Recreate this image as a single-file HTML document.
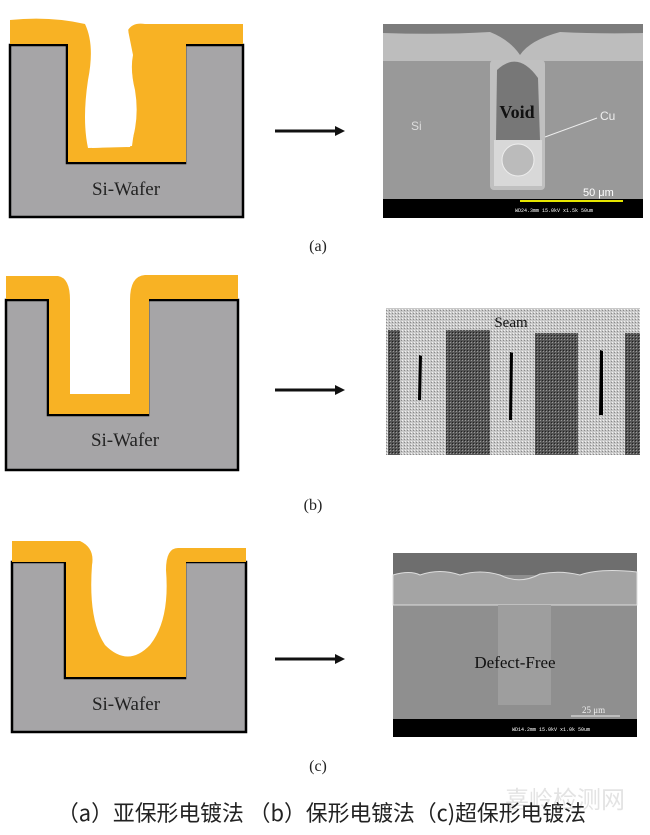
<!DOCTYPE html>
<html><head><meta charset="utf-8"><style>
body{margin:0;background:#fff;width:650px;height:835px;overflow:hidden}
svg{display:block}
.t{font-family:"Liberation Serif",serif}
</style></head><body>
<svg width="650" height="835" viewBox="0 0 650 835">
<defs>
<marker id="ah" markerWidth="10" markerHeight="10" refX="6" refY="5" orient="auto" markerUnits="userSpaceOnUse"><path d="M0,0 L10,5 L0,10 z" fill="#111"/></marker>
<pattern id="dots" width="3" height="3" patternUnits="userSpaceOnUse"><rect width="3" height="3" fill="#c8c8c8"/><rect width="1" height="1" fill="#f2f2f2"/><rect x="2" y="1" width="1" height="1" fill="#8a8a8a"/></pattern>
<pattern id="dk" width="3" height="3" patternUnits="userSpaceOnUse"><rect width="3" height="3" fill="#555"/><rect width="1" height="1" fill="#999"/><rect x="2" y="2" width="1" height="1" fill="#222"/></pattern>
</defs>

<!-- Panel a -->
<path d="M10,45 H67 V163 H185 V45 H243 V217 H10 Z" fill="#a6a5a7" stroke="#000" stroke-width="2.5"/>
<path d="M10,20 Q50,16 85,24 Q95,45 88,80 Q82,120 88,148 L130,147 Q140,120 135,90 Q130,70 133,55 L128,30 Q133,22 145,24 L243,24 V44 H186 V162 H68 V44 H10 Z" fill="#f8b224"/>
<path d="M88,26 Q100,90 92,148 L132,146 Q138,110 130,60 L128,26 Z" fill="#fff"/>
<text x="126" y="195" text-anchor="middle" class="t" font-size="19" fill="#222">Si-Wafer</text>
<line x1="275" y1="131" x2="341" y2="131" stroke="#111" stroke-width="3" marker-end="url(#ah)"/>
<rect x="383" y="24" width="260" height="194" fill="#999"/>
<rect x="383" y="24" width="260" height="37" fill="#bdbdbd"/>
<path d="M383,24 H643 V33 Q600,34 560,32 Q530,40 520,55 Q510,40 490,32 Q440,35 383,33Z" fill="#7c7c7c"/>
<rect x="490" y="60" width="55" height="130" rx="4" fill="#c0c0c0"/>
<path d="M497,70 Q518,50 538,78 L540,140 H496 Z" fill="#777"/>
<path d="M494,140 H542 V186 H494Z" fill="#d8d8d8"/>
<circle cx="518" cy="160" r="16" fill="#bbb" stroke="#eee"/>
<text x="517" y="118" text-anchor="middle" class="t" font-size="18" font-weight="bold" fill="#111">Void</text>
<text x="411" y="130" font-family="Liberation Sans" font-size="12" fill="#ddd">Si</text>
<text x="600" y="120" font-family="Liberation Sans" font-size="12" fill="#eee">Cu</text>
<line x1="597" y1="118" x2="545" y2="137" stroke="#eee" stroke-width="1"/>
<text x="583" y="196" font-family="Liberation Sans" font-size="11" fill="#fff">50 μm</text>
<rect x="383" y="199" width="260" height="19" fill="#000"/>
<rect x="520" y="200" width="103" height="2" fill="#e6e600"/>
<text x="515" y="212" font-family="Liberation Mono" font-size="5" fill="#fff">WD24.3mm 15.0kV x1.5k  50um</text>
<text x="318" y="251" text-anchor="middle" class="t" font-size="16" fill="#222">(a)</text>

<!-- Panel b -->
<path d="M6,300 H48 V415 H148 V300 H238 V470 H6 Z" fill="#a6a5a7" stroke="#000" stroke-width="2.5"/>
<path d="M6,276 H58 Q70,278 70,300 V394 H130 V300 Q130,276 145,275 H238 V299 H149 V414 H49 V299 H6 Z" fill="#f8b224"/>
<text x="125" y="446" text-anchor="middle" class="t" font-size="19" fill="#222">Si-Wafer</text>
<line x1="275" y1="390" x2="341" y2="390" stroke="#111" stroke-width="3" marker-end="url(#ah)"/>
<rect x="386" y="308" width="254" height="147" fill="url(#dots)"/>
<rect x="388" y="330" width="12" height="125" fill="url(#dk)"/>
<rect x="446" y="330" width="44" height="125" fill="url(#dk)"/>
<rect x="535" y="333" width="43" height="122" fill="url(#dk)"/>
<rect x="625" y="333" width="15" height="122" fill="url(#dk)"/>
<path d="M419,355 L422,356 L421,400 L418,400Z" fill="#000"/>
<path d="M510,352 L513,353 L512,420 L509,420Z" fill="#000"/>
<path d="M600,350 L603,351 L603,415 L599,415Z" fill="#000"/>
<text x="511" y="327" text-anchor="middle" class="t" font-size="15" fill="#111">Seam</text>
<text x="313" y="510" text-anchor="middle" class="t" font-size="16" fill="#222">(b)</text>

<!-- Panel c -->
<path d="M12,562 H65 V678 H185 V562 H246 V732 H12 Z" fill="#a6a5a7" stroke="#000" stroke-width="2.5"/>
<path d="M12,541 H80 Q95,548 92,565 Q88,620 105,645 Q128,668 150,645 Q170,620 166,570 Q166,548 178,548 H246 V562 H186 V677 H66 V562 H12 Z" fill="#f8b224"/>
<text x="126" y="710" text-anchor="middle" class="t" font-size="19" fill="#222">Si-Wafer</text>
<line x1="275" y1="659" x2="341" y2="659" stroke="#111" stroke-width="3" marker-end="url(#ah)"/>
<rect x="393" y="553" width="244" height="184" fill="#8f8f8f"/>
<rect x="393" y="553" width="244" height="22" fill="#6e6e6e"/>
<path d="M393,575 Q410,570 420,575 Q440,568 460,575 Q480,569 500,575 Q520,585 540,574 Q560,570 580,575 Q600,568 637,572 V605 H393Z" fill="#a4a4a4" stroke="#ddd" stroke-width="1"/>
<rect x="498" y="605" width="53" height="100" fill="#9e9e9e"/>
<text x="515" y="668" text-anchor="middle" class="t" font-size="17" fill="#111">Defect-Free</text>
<text x="582" y="713" font-family="Liberation Serif" font-size="9" fill="#eee">25 μm</text>
<line x1="571" y1="716" x2="620" y2="716" stroke="#eee"/>
<rect x="393" y="719" width="244" height="18" fill="#000"/>
<text x="512" y="731" font-family="Liberation Mono" font-size="5" fill="#fff">WD14.2mm 15.0kV x1.0k  50um</text>
<text x="318" y="771" text-anchor="middle" class="t" font-size="16" fill="#222">(c)</text>

<text x="505" y="808" font-family="'Noto Sans CJK SC',sans-serif" font-size="24" fill="#ddd" opacity="0.8">喜岭检测网</text>
<text x="57" y="821" textLength="529" lengthAdjust="spacingAndGlyphs" font-family="'Noto Sans CJK SC',sans-serif" font-size="22" fill="#222">（a）亚保形电镀法 （b）保形电镀法（c)超保形电镀法</text>
</svg>
</body></html>
